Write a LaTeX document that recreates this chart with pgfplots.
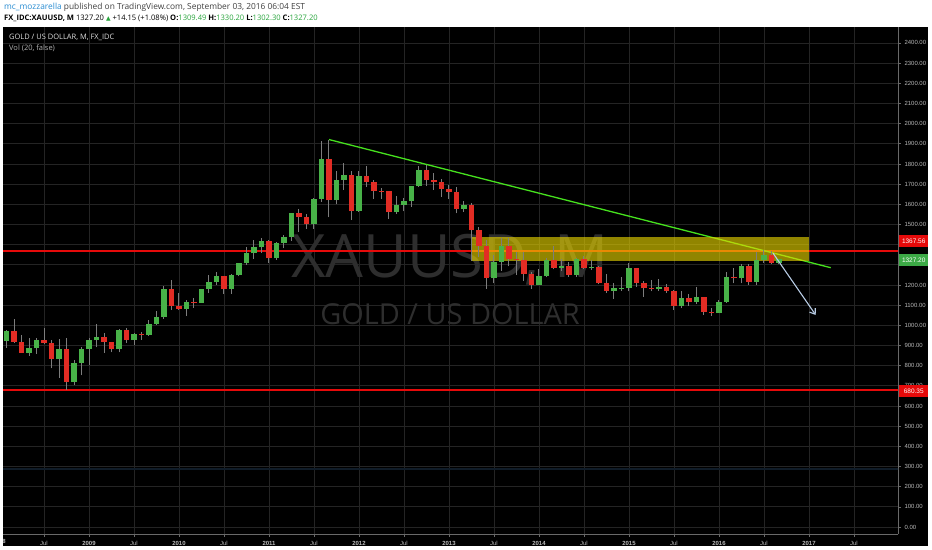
\documentclass[border=0pt]{standalone}
\usepackage{pgfplots}
\pgfplotsset{compat=1.18}
\usepackage{pgfplotstable}
\usepackage{fontspec}
\setmainfont{Open Sans}
\newfontfamily\tickfont{Liberation Sans}
\newfontfamily\symfont{DejaVu Sans}
\usetikzlibrary{arrows.meta}

\definecolor{upgreen}{RGB}{72,178,72}
\definecolor{downred}{RGB}{226,44,36}
\definecolor{gridgray}{RGB}{36,36,36}
\definecolor{wickgray}{RGB}{125,125,125}
\definecolor{zonefill}{RGB}{235,215,0}
\definecolor{trendgreen}{RGB}{70,225,30}
\definecolor{arrowblue}{RGB}{185,205,230}
\definecolor{markgray}{RGB}{46,46,46}
\definecolor{axisgray}{RGB}{105,105,105}
\definecolor{ticktext}{RGB}{185,185,185}
\definecolor{levelred}{RGB}{230,10,10}
\definecolor{faintblue}{RGB}{16,28,40}
\definecolor{userblue}{RGB}{40,140,210}
\definecolor{numgreen}{RGB}{40,165,60}
\definecolor{taggreen}{RGB}{60,170,70}

% XAUUSD monthly, m = months since Jan 2008
\pgfplotstableread{
m o h l c
1 923 975 887 972
2 972 1033 914 916
3 916 951 862 864
4 864 935 850 885
5 885 937 860 928
6 928 988 905 912
7 912 925 786 833
8 833 930 740 884
9 884 935 681 718
10 718 827 705 815
11 815 890 752 882
12 882 935 801 927
13 927 1007 891 942
14 942 960 865 916
15 916 917 866 883
16 883 982 866 979
17 979 989 912 927
18 927 960 903 955
19 955 967 928 953
20 953 1025 948 1007
21 1007 1070 1002 1040
22 1040 1195 1033 1182
23 1182 1227 1075 1096
24 1096 1162 1075 1081
25 1081 1127 1045 1118
26 1118 1135 1087 1113
27 1113 1182 1113 1180
28 1180 1249 1159 1213
29 1213 1265 1201 1244
30 1244 1245 1155 1181
31 1181 1252 1157 1247
32 1247 1310 1242 1307
33 1307 1388 1300 1357
34 1357 1424 1331 1386
35 1386 1431 1358 1420
36 1420 1424 1308 1332
37 1332 1411 1325 1409
38 1409 1447 1381 1439
39 1439 1557 1420 1556
40 1556 1577 1462 1536
41 1536 1553 1478 1500
42 1500 1632 1479 1628
43 1628 1913 1613 1826
44 1826 1921 1535 1620
45 1620 1764 1600 1722
46 1722 1803 1670 1746
47 1746 1764 1522 1566
48 1566 1764 1562 1738
49 1738 1791 1688 1710
50 1710 1720 1626 1668
51 1668 1679 1627 1664
52 1664 1668 1527 1560
53 1560 1640 1551 1598
54 1598 1631 1565 1615
55 1615 1692 1587 1690
56 1690 1788 1685 1772
57 1772 1796 1692 1719
58 1719 1755 1672 1712
59 1712 1725 1636 1675
60 1675 1694 1627 1663
61 1663 1685 1555 1578
62 1578 1617 1562 1595
63 1595 1606 1321 1472
64 1472 1488 1338 1392
65 1392 1424 1180 1234
66 1234 1348 1208 1313
67 1313 1434 1271 1395
68 1395 1434 1292 1327
69 1327 1362 1251 1323
70 1323 1361 1221 1253
71 1253 1262 1182 1202
72 1202 1280 1200 1244
73 1244 1333 1238 1326
74 1326 1392 1277 1284
75 1284 1331 1268 1296
76 1296 1315 1240 1250
77 1250 1332 1241 1327
78 1327 1345 1281 1282
79 1282 1323 1273 1287
80 1287 1292 1204 1211
81 1211 1255 1161 1171
82 1171 1208 1131 1183
83 1183 1238 1170 1184
84 1184 1307 1168 1283
85 1283 1284 1191 1212
86 1212 1220 1142 1183
87 1183 1224 1168 1182
88 1182 1232 1170 1190
89 1190 1205 1162 1172
90 1172 1175 1077 1095
91 1095 1170 1084 1133
92 1133 1157 1098 1115
93 1115 1191 1106 1142
94 1142 1142 1052 1065
95 1065 1088 1046 1061
96 1061 1123 1061 1118
97 1118 1263 1111 1238
98 1238 1283 1208 1233
99 1233 1304 1208 1293
100 1293 1303 1200 1215
101 1215 1362 1200 1322
102 1322 1375 1311 1351
103 1351 1367.56 1302 1309
104 1309.49 1330.20 1302.30 1327.20
}\gold

\begin{document}
\begin{tikzpicture}
\useasboundingbox (0,0) rectangle (932bp,550bp);
\fill[black] (0,0) rectangle (932bp,550bp);
\begin{axis}[
  at={(3bp,16bp)}, anchor=south west,
  scale only axis, width=895bp, height=507bp,
  xmin=0.533, xmax=119.87, ymin=-34.7, ymax=2479,
  axis x line*=bottom, axis y line*=right,
  axis line style={draw=axisgray, line width=0.8bp, -},
  xtick={6,12,...,114},
  xticklabels={Jul,\textbf{2009},Jul,\textbf{2010},Jul,\textbf{2011},Jul,\textbf{2012},Jul,\textbf{2013},Jul,\textbf{2014},Jul,\textbf{2015},Jul,\textbf{2016},Jul,\textbf{2017},Jul},
  ytick={0,100,...,2400},
  xmajorgrids, ymajorgrids,
  major grid style={draw=gridgray, line width=0.8bp},
  tick align=outside, major tick length=3bp,
  tick style={draw=axisgray, line width=0.6bp},
  ticklabel style={font=\tickfont\fontsize{6}{7}\selectfont, text=ticktext},
  xticklabel style={yshift=-1bp},
  yticklabel style={anchor=west,
    /pgf/number format/.cd, fixed, fixed zerofill, precision=2, 1000 sep={}, assume math mode=true},
]
% watermark
\node[text=markgray, font=\fontsize{60}{60}\selectfont] at (rel axis cs:0.4995,0.541) {XAUUSD, M};
\node[text=markgray, font=\fontsize{29}{29}\selectfont] at (rel axis cs:0.4995,0.433) {GOLD / US DOLLAR};

% horizontal levels drawn on the chart
\draw[faintblue, line width=1.8bp] (axis cs:0,288) -- (axis cs:120,288);
\draw[levelred, line width=1.6bp] (axis cs:0,1367.56) -- (axis cs:120,1367.56);
\draw[levelred, line width=1.6bp] (axis cs:0,680.35) -- (axis cs:120,680.35);
% trendline from the 2011 top
\addplot[draw=trendgreen, line width=1.3bp, forget plot] coordinates {(44,1921) (110.9,1285.6)};
% resistance zone
\addplot[draw=none, fill=zonefill, fill opacity=0.62, forget plot] coordinates {(63,1319) (108,1319) (108,1436) (63,1436)} -- cycle;

% wicks
\addplot[draw=none, forget plot, error bars/.cd, y dir=plus, y explicit, error mark=none,
  error bar style={draw=wickgray, line width=1bp}]
  table[x=m, y=l, y error plus expr=\thisrow{h}-\thisrow{l}] {\gold};
% up bodies
\addplot[draw=none, forget plot, error bars/.cd, y dir=plus, y explicit, error mark=none,
  error bar style={draw=upgreen, line width=5.2bp}]
  table[x=m, y expr={\thisrow{c}>=\thisrow{o} ? \thisrow{o} : nan},
        y error plus expr={max(\thisrow{c}-\thisrow{o},4)}] {\gold};
% down bodies
\addplot[draw=none, forget plot, error bars/.cd, y dir=plus, y explicit, error mark=none,
  error bar style={draw=downred, line width=5.2bp}]
  table[x=m, y expr={\thisrow{c}<\thisrow{o} ? \thisrow{c} : nan},
        y error plus expr={max(\thisrow{o}-\thisrow{c},4)}] {\gold};

% projection arrow
\draw[arrowblue, line width=1.1bp, -{Straight Barb[length=5bp,width=7bp]}] (axis cs:103.2,1358) -- (axis cs:108.9,1051);
\end{axis}

% first year label, cut by the edge
\node[font=\tickfont\bfseries\fontsize{6}{7}\selectfont, text=ticktext] at (-1bp,9bp) {2008};

% price tags on the scale
\node[anchor=west, fill=levelred, text=white, minimum width=29bp, minimum height=11.5bp, inner sep=0pt,
  font=\tickfont\fontsize{6.5}{7}\selectfont] at (899bp,309bp) {1367.56};
\node[anchor=west, fill=taggreen, text=white, minimum width=29bp, minimum height=11.5bp, inner sep=0pt,
  font=\tickfont\fontsize{6.5}{7}\selectfont] at (899bp,290bp) {1327.20};
\node[anchor=west, fill=levelred, text=white, minimum width=29bp, minimum height=11.5bp, inner sep=0pt,
  font=\tickfont\fontsize{6.5}{7}\selectfont] at (899bp,159bp) {680.35};

% white frame and header
\fill[white] (0,0) rectangle (3bp,523bp);
\fill[white] (928bp,0) rectangle (932bp,523bp);
\fill[white] (0,0) rectangle (932bp,4bp);
\fill[white] (0,523bp) rectangle (932bp,550bp);

\node[anchor=base west, inner sep=0pt, font=\fontsize{8.4}{9}\selectfont, text=black!75] at (4bp,540bp)
  {\textcolor{userblue}{mc\_mozzarella} published on TradingView.com, September 03, 2016 06:04 EST};
\node[anchor=base west, inner sep=0pt, font=\fontsize{7.6}{9}\selectfont, text=black] at (4bp,529.5bp)
  {\textbf{FX\_IDC:XAUUSD, M} 1327.20 {\symfont\fontsize{6}{7}\selectfont\textcolor{numgreen}{▲}} +14.15 (+1.08\%)
   \textbf{O:}\textcolor{numgreen}{1309.49} \textbf{H:}\textcolor{numgreen}{1330.20}
   \textbf{L:}\textcolor{numgreen}{1302.30} \textbf{C:}\textcolor{numgreen}{1327.20}};

\node[anchor=base west, inner sep=0pt, font=\fontsize{7.5}{9}\selectfont, text=white!88!black] at (9bp,510.5bp)
  {GOLD / US DOLLAR, M, FX\_IDC};
\node[anchor=base west, inner sep=0pt, font=\fontsize{7.5}{9}\selectfont, text=white!70!black] at (9bp,499.5bp)
  {Vol (20, false)};
\end{tikzpicture}
\end{document}
